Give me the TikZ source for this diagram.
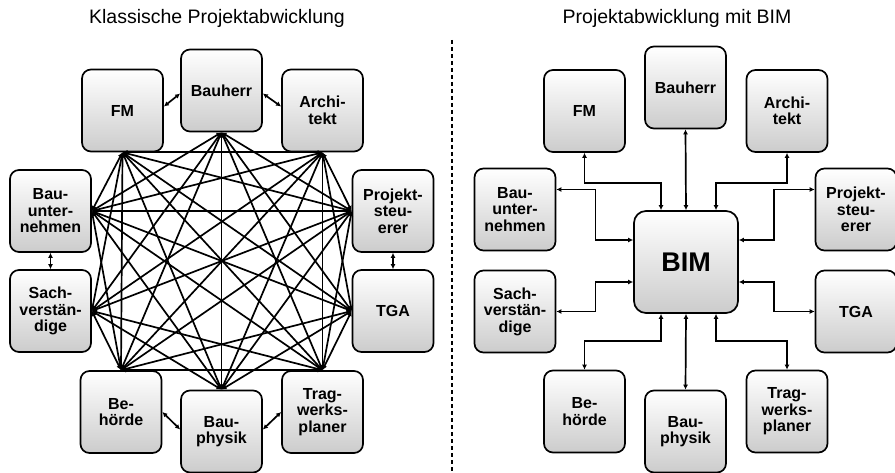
\documentclass[tikz,border=0pt]{standalone}
\usepackage{fontspec}
\setmainfont{Liberation Sans}
\usetikzlibrary{arrows.meta}
\tikzset{
  box/.style={draw, line width=1.7pt, rounded corners=9pt, top color=white, bottom color=black!20,
    minimum width=81pt, minimum height=82pt, inner sep=1pt, align=center,
    font=\bfseries\fontsize{16}{16.5}\selectfont},
  bimbox/.style={box, rounded corners=12pt, minimum width=104pt, minimum height=102pt, font=\bfseries\fontsize{27}{30}\selectfont},
  link/.style={line width=1.7pt, {Latex[length=5pt,width=5pt]}-{Latex[length=5pt,width=5pt]}},
  heading/.style={font=\fontsize{19.5}{22}\selectfont},
}
% pairs of the left half that have no long line
\pgfkeys{/noedge/.cd, 1-2/.initial=, 2-3/.initial=, 4-6/.initial=, 5-7/.initial=,
  6-7/.initial=, 8-9/.initial=, 9-10/.initial=}
\begin{document}
\begin{tikzpicture}[x=1pt,y=1pt]  %classic vs. BIM
  \useasboundingbox (0,0) rectangle (895,472);
  % left half
  \node[heading] (titleL) at (217,454) {Klassische Projektabwicklung};
  \node[box] (bauherrL) at (221.5,381.5) {Bauherr};
  \node[box] (fmL) at (122.5,361.5) {FM};
  \node[box] (archL) at (322.5,361.5) {Archi-\\tekt};
  \node[box] (bauuL) at (50.5,261) {Bau-\\unter-\\nehmen};
  \node[box] (projL) at (393,261) {Projekt-\\steu-\\erer};
  \node[box] (sachL) at (50.5,161) {Sach-\\verstän-\\dige};
  \node[box] (tgaL) at (393,161) {TGA};
  \node[box] (behL) at (121,60) {Be-\\hörde};
  \node[box] (physL) at (221.5,40.5) {Bau-\\physik};
  \node[box] (tragL) at (322.5,60) {Trag-\\werks-\\planer};
  \def\ptsL{fmL.south,bauherrL.south,archL.south,bauuL.east,projL.west,sachL.east,tgaL.west,behL.north,physL.north,tragL.north}
  \foreach \a [count=\i] in \ptsL {
    \foreach \b [count=\j] in \ptsL {
      \ifnum\j>\i
        \pgfkeysifdefined{/noedge/\i-\j}{}{\draw[link] (\a) -- (\b);}
      \fi
    }
  }
  \draw[link] ([yshift=4pt]fmL.east) -- ([yshift=-3pt]bauherrL.west);
  \draw[link] ([yshift=-3pt]bauherrL.east) -- ([yshift=4pt]archL.west);
  \draw[link] (bauuL.south) -- (sachL.north);
  \draw[link] (projL.south) -- (tgaL.north);
  \draw[link] (behL.east) -- ([yshift=2pt]physL.west);
  \draw[link] ([yshift=2pt]physL.east) -- (tragL.west);
  % separator
  \coordinate (sepTop) at (452,432);
  \coordinate (sepBot) at (452,0);
  \draw[line width=1.3pt, dash pattern=on 4pt off 3pt] (sepTop) -- (sepBot);
  % right half
  \node[heading] (titleR) at (677,454) {Projektabwicklung mit BIM};
  \node[bimbox] (bimR) at (686,210) {BIM};
  \node[box] (bauherrR) at (685.5,384.5) {Bauherr};
  \node[box] (fmR) at (584.5,361) {FM};
  \node[box] (archR) at (787,361) {Archi-\\tekt};
  \node[box] (bauuR) at (515,262.5) {Bau-\\unter-\\nehmen};
  \node[box] (projR) at (856,262.5) {Projekt-\\steu-\\erer};
  \node[box] (sachR) at (515,160.5) {Sach-\\verstän-\\dige};
  \node[box] (tgaR) at (856,160.5) {TGA};
  \node[box] (behR) at (584.5,60.5) {Be-\\hörde};
  \node[box] (physR) at (685.5,40.5) {Bau-\\physik};
  \node[box] (tragR) at (787,60.5) {Trag-\\werks-\\planer};
  \draw[link] (fmR.south) -- ++(0,-30) -| ([xshift=-25pt]bimR.north);
  \draw[link] (bauherrR.south) -- (bimR.north);
  \draw[link] (archR.south) -- ++(0,-30) -| ([xshift=30pt]bimR.north);
  \draw[link] ([yshift=20pt]bauuR.east) -- ++(39,0) |- ([yshift=22pt]bimR.west);
  \draw[link] ([yshift=20pt]projR.west) -- ++(-41,0) |- ([yshift=22pt]bimR.east);
  \draw[link] (sachR.east) -- ++(39,0) |- ([yshift=-20pt]bimR.west);
  \draw[link] (tgaR.west) -- ++(-41,0) |- ([yshift=-20pt]bimR.east);
  \draw[link] (behR.north) -- ++(0,29) -| ([xshift=-25pt]bimR.south);
  \draw[link] (physR.north) -- (bimR.south);
  \draw[link] (tragR.north) -- ++(0,29) -| ([xshift=30pt]bimR.south);
\end{tikzpicture}
\end{document}
